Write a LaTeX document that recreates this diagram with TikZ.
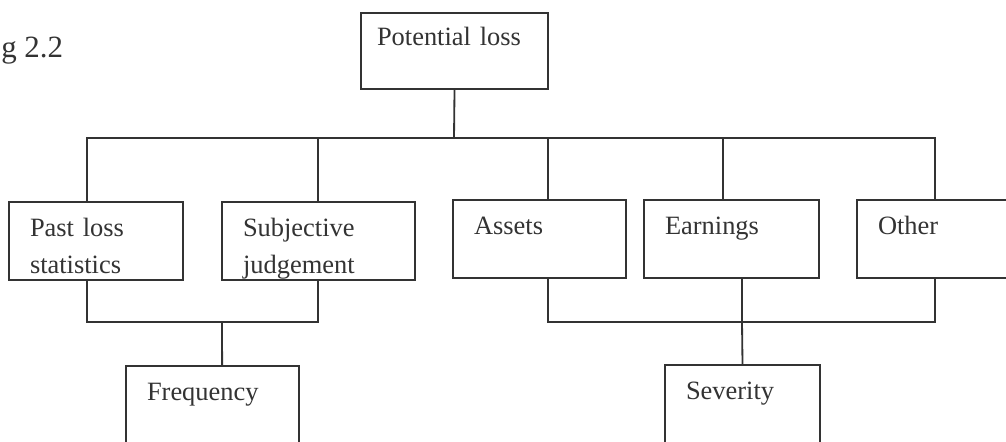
\documentclass[tikz,border=0pt]{standalone}
\usepackage{fontspec}
\setmainfont{Liberation Serif}
\definecolor{ink}{HTML}{333333}

\begin{document}
\begin{tikzpicture}[x=0.025cm,y=-0.025cm,
  box/.style={draw=ink,line width=1.3pt,rectangle,anchor=north west,outer sep=0pt,
              inner xsep=0.525cm,inner ysep=0pt,align=left,text width=#1,
              text height=0.85cm,text depth=1.1cm,text=ink,font=\fontsize{18.8}{27}\selectfont},
  link/.style={draw=ink,line width=1.3pt}]
\useasboundingbox (0,0) rectangle (1006,441);
\clip (0,0) rectangle (1006,441);
\fill[white] (0,0) rectangle (1006,441);
% figure number
\node[anchor=base west,inner sep=0pt,text=ink,font=\fontsize{22}{26}\selectfont] (figno) at (1,57) {g 2.2};
% boxes
\node[box=3.875cm,inner xsep=0.4cm,text height=0.8cm] (top) at (361,13) {Potential loss};
\node[box=3.3cm] (past) at (9,202) {Past loss\\statistics};
\node[box=3.775cm] (subj) at (222,202) {Subjective\\judgement};
\node[box=3.275cm] (assets) at (453,200) {Assets};
\node[box=3.325cm] (earn) at (644,200) {Earnings};
\node[box=3.325cm] (other) at (857,200) {Other};
\node[box=3.275cm] (freq) at (126,366) {Frequency};
\node[box=2.825cm] (sev) at (665,365) {Severity};
% hubs
\coordinate (hub) at (454,138);
\coordinate (lhub) at (222,322);
\coordinate (rhub) at (742,322);
% upper tree
\draw[link] (top.south) -- (hub);
\draw[link] (hub) -| ([xshift=-0.225cm]past.north);
\draw[link] (hub) -| ([xshift=-0.0125cm]subj.north);
\draw[link] (hub) -| ([xshift=0.21cm]assets.north);
\draw[link] (hub) -| ([xshift=-0.21cm]earn.north);
\draw[link] (hub) -| ([xshift=-0.24cm]other.north);
% frequency side
\draw[link] ([xshift=-0.225cm]past.south) |- (lhub);
\draw[link] ([xshift=-0.0125cm]subj.south) |- (lhub);
\draw[link] (lhub) -- ([xshift=0.24cm]freq.north);
% severity side
\draw[link] ([xshift=0.21cm]assets.south) |- (rhub);
\draw[link] ([xshift=-0.24cm]other.south) |- (rhub);
\draw[link] ([xshift=0.26cm]earn.south) -- (rhub);
\draw[link] (rhub) -- (sev.north);
\end{tikzpicture}
\end{document}
